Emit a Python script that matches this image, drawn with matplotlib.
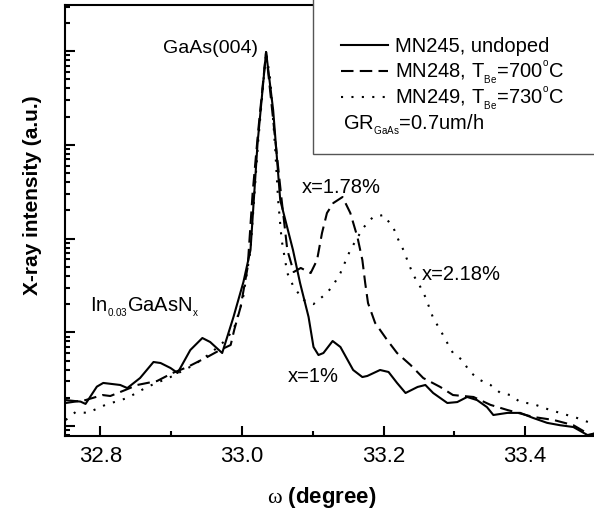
import matplotlib
matplotlib.use("Agg")
import matplotlib.pyplot as plt
from matplotlib.patches import Rectangle
from matplotlib.ticker import LogLocator, NullFormatter, MultipleLocator, FormatStrFormatter

plt.rcParams['font.family'] = ['Liberation Sans', 'DejaVu Sans']
plt.rcParams['mathtext.fontset'] = 'custom'
plt.rcParams['mathtext.rm'] = 'Liberation Sans'
plt.rcParams['mathtext.it'] = 'Liberation Serif'

# MN245, undoped (solid)
omega_245 = [32.751, 32.772, 32.779, 32.795, 32.804, 32.828, 32.838, 32.856, 32.875, 32.885,
             32.899, 32.909, 32.927, 32.944, 32.955, 32.972, 32.988, 33.002, 33.012, 33.022,
             33.034, 33.044, 33.054, 33.072, 33.082, 33.094, 33.101, 33.108, 33.115, 33.128,
             33.139, 33.157, 33.170, 33.177, 33.195, 33.207, 33.219, 33.231, 33.248, 33.259,
             33.270, 33.290, 33.304, 33.318, 33.332, 33.346, 33.355, 33.375, 33.393, 33.411,
             33.431, 33.449, 33.468, 33.488, 33.500]
counts_245 = [18.9, 18.2, 17.2, 26.3, 28.8, 27.4, 25.4, 32.5, 48.2, 47.0,
              41.6, 36.8, 64.7, 86.9, 78.8, 60.1, 146, 344, 756, 10480,
              98000, 23570, 2581, 756, 336, 146, 69.7, 57.2, 60.1, 80.7,
              69.7, 39.6, 33.3, 34.2, 39.6, 37.7, 28.8, 22.5, 26.1, 27.4,
              22.5, 17.6, 18.0, 20.4, 18.9, 15.9, 13.1, 13.8, 13.8, 12.2,
              10.8, 10.2, 9.75, 8.0, 8.4]

# MN248, T_Be = 700 C (dashed)
omega_248 = [32.751, 32.779, 32.803, 32.814, 32.835, 32.852, 32.880, 32.902, 32.923, 32.951,
             32.969, 32.984, 32.989, 32.998, 33.008, 33.015, 33.023, 33.034, 33.047, 33.056,
             33.064, 33.073, 33.083, 33.097, 33.106, 33.113, 33.120, 33.129, 33.142, 33.153,
             33.163, 33.170, 33.174, 33.178, 33.188, 33.205, 33.219, 33.238, 33.256, 33.280,
             33.298, 33.327, 33.351, 33.375, 33.411, 33.440, 33.468, 33.492, 33.500]
counts_248 = [17.6, 18.9, 21.4, 20.9, 24.2, 27.4, 30.2, 36.8, 42.6, 54.5,
              64.7, 73.2, 106, 186, 497, 3066, 14400, 98000, 11280, 2581,
              756, 440, 486, 429, 591, 1147, 1876, 2398, 2779, 1876,
              1040, 591, 336, 205, 126, 82.8, 60.1, 44.8, 32.5, 26.1,
              21.4, 20.4, 16.8, 14.8, 12.5, 11.6, 10.2, 8.0, 8.4]

# MN249, T_Be = 730 C (dotted)
omega_249 = [32.751, 32.765, 32.782, 32.807, 32.838, 32.866, 32.899, 32.932, 32.956, 32.974,
             32.988, 33.001, 33.012, 33.023, 33.034, 33.040, 33.047, 33.051, 33.056, 33.064,
             33.073, 33.087, 33.101, 33.120, 33.129, 33.139, 33.153, 33.171, 33.185, 33.200,
             33.214, 33.221, 33.228, 33.235, 33.242, 33.252, 33.259, 33.270, 33.280, 33.290,
             33.298, 33.311, 33.322, 33.336, 33.351, 33.365, 33.379, 33.393, 33.411, 33.431,
             33.449, 33.473, 33.492, 33.500]
counts_249 = [11.6, 14.1, 13.8, 16.8, 19.9, 26.1, 33.3, 44.8, 60.1, 78.8,
              106, 221, 756, 11280, 98000, 49260, 8820, 2581, 966, 429,
              304, 221, 200, 263, 320, 429, 756, 1297, 1700, 1786,
              1297, 966, 756, 549, 409, 304, 238, 142, 106, 76.9,
              60.1, 50.6, 37.7, 31.0, 27.4, 22.5, 21.4, 18.0, 17.2, 15.2,
              13.8, 12.2, 10.8, 11.0]

# small, lowered subscripts / small degree sign like the original
legend_labels = ['MN245, undoped',
                 r'MN248, T$_{{}_{\mathregular{Be}}}$=700$^{{}^{\mathregular{o}}}$C',
                 r'MN249, T$_{{}_{\mathregular{Be}}}$=730$^{{}^{\mathregular{o}}}$C']

fig = plt.figure(figsize=(5.94, 5.17), dpi=100)
ax = fig.add_axes([65 / 594, 81 / 517, 531 / 594, 430.7 / 517])

lw = 1.5
ax.plot(omega_245, counts_245, color='black', lw=lw, ls='-')
ax.plot(omega_248, counts_248, color='black', lw=lw, ls=(0, (6, 3)))
ax.plot(omega_249, counts_249, color='black', lw=lw, ls=(0, (1, 4)))

ax.set_yscale('log')
ax.set_xlim(32.75, 33.5)
ax.set_ylim(7.82, 3.09e5)

ax.xaxis.set_major_locator(MultipleLocator(0.2))
ax.xaxis.set_minor_locator(MultipleLocator(0.1))
ax.xaxis.set_major_formatter(FormatStrFormatter('%.1f'))
ax.yaxis.set_major_locator(LogLocator(base=10, numticks=20))
ax.yaxis.set_minor_locator(LogLocator(base=10, subs=range(2, 10), numticks=50))
ax.yaxis.set_major_formatter(NullFormatter())
ax.yaxis.set_minor_formatter(NullFormatter())

ax.tick_params(which='both', direction='in', top=False, right=False, width=1.5)
ax.tick_params(which='major', length=7, labelsize=16, pad=7)
ax.tick_params(which='minor', length=3.5)
for s in ax.spines.values():
    s.set_linewidth(1.5)
ax.spines['right'].set_visible(False)

ax.set_xlabel(r'$\omega$ (degree)', fontsize=16, fontweight='bold')
ax.set_ylabel('X-ray intensity (a.u.)', fontsize=15, fontweight='bold')
ax.xaxis.set_label_coords((322 - 65) / 531, (436 - 498) / 430.7)
ax.yaxis.set_label_coords((33 - 65) / 531, 0.56)
ax.xaxis.label.set_va('center')
ax.yaxis.label.set_va('center')

# legend box
box = Rectangle((0.467, 0.6548), 0.6, 0.4, transform=ax.transAxes, facecolor='white',
                edgecolor='#555555', lw=1.0, zorder=3, clip_on=False)
ax.add_patch(box)
styles = ['-', (0, (6, 3)), (0, (1, 4))]
line_y = [0.9078, 0.8475, 0.7871]
text_y = [0.8916, 0.8312, 0.7708]
for st, ly, ty, lab in zip(styles, line_y, text_y, legend_labels):
    ax.plot([0.520, 0.608], [ly, ly], transform=ax.transAxes, color='black', lw=lw, ls=st,
            zorder=4, clip_on=False)
    ax.text(0.621, ty, lab, transform=ax.transAxes, fontsize=14.5, va='baseline', zorder=4)
ax.text(0.5235, 0.7105, r'GR$_{{}_{\mathregular{GaAs}}}$=0.7um/h', transform=ax.transAxes,
        fontsize=14.5, va='baseline', zorder=4)

# annotations
ax.text(33.022, 9.57e4, 'GaAs(004)', fontsize=14, ha='right', va='baseline')
ax.text(33.085, 3068, 'x=1.78%', fontsize=14.5, va='baseline')
ax.text(33.254, 361, 'x=2.18%', fontsize=14.5, va='baseline')
ax.text(33.065, 29.7, 'x=1%', fontsize=14.5, va='baseline')
ax.text(32.786, 166, r'In$_{{}_{\mathregular{0.03}}}$GaAsN$_{{}_{\mathregular{x}}}$', fontsize=14.5,
        va='baseline')

fig.savefig('out.png', dpi=100)
